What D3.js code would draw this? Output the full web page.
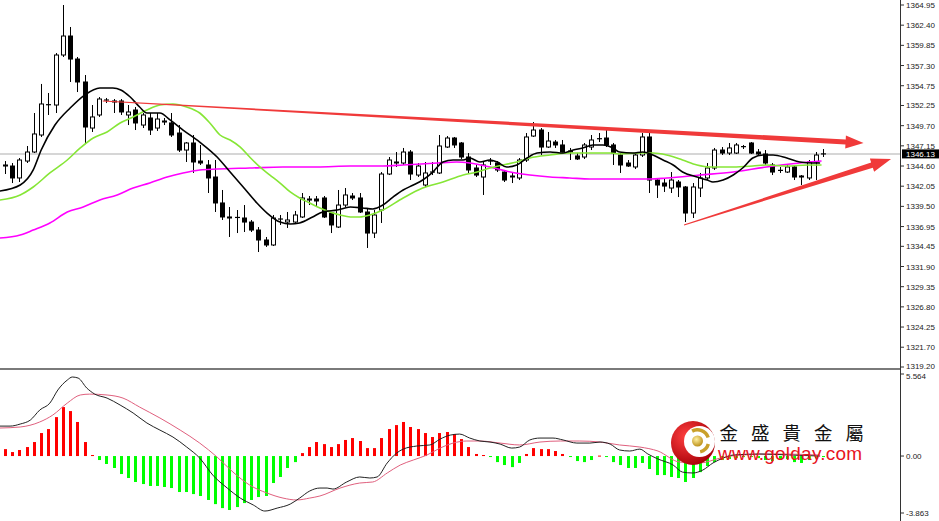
<!DOCTYPE html>
<html><head><meta charset="utf-8">
<script src="https://cdn.jsdelivr.net/npm/d3@7"></script>
<style>body{margin:0;background:#fff}svg{display:block}</style>
</head><body><svg id="c" width="939" height="521"></svg>
<script>
const openP = [1344.60,1344.60,1343.09,1345.23,1346.37,1348.52,1352.31,1352.31,1358.63,1361.03,
1358.12,1355.22,1349.40,1351.05,1352.82,1352.82,1352.82,1351.05,1351.68,1349.78,
1350.67,1349.40,1350.16,1350.04,1348.77,1346.62,1347.51,1345.23,1344.73,1343.21,
1339.93,1338.16,1338.03,1338.03,1337.52,1336.51,1335.25,1334.62,1337.78,1337.52,
1337.52,1338.16,1340.30,1340.43,1340.56,1338.66,1336.89,1339.67,1340.81,1340.56,
1338.79,1336.13,1339.04,1343.59,1345.11,1344.98,1346.37,1343.46,1342.20,1343.72,
1343.72,1347.00,1348.14,1347.51,1345.74,1344.35,1343.21,1345.11,1344.98,1343.84,
1343.21,1343.09,1345.36,1348.39,1349.15,1347.00,1347.63,1347.26,1346.37,1345.87,
1345.74,1347.00,1348.01,1348.14,1347.26,1345.99,1344.98,1344.48,1345.99,1348.27,
1342.83,1342.45,1341.82,1342.58,1341.95,1338.66,1341.82,1343.09,1344.35,1346.62,
1346.24,1346.24,1347.00,1347.51,1346.37,1346.12,1344.73,1344.10,1343.84,1344.48,
1343.34,1343.09,1345.11,1346.24];
const highP = [1345.23,1344.98,1345.61,1347.13,1351.30,1354.97,1353.83,1358.88,1364.95,1362.17,
1358.38,1356.10,1352.31,1353.32,1353.20,1353.07,1353.07,1352.31,1352.06,1351.30,
1351.30,1351.30,1350.67,1351.30,1349.78,1347.63,1348.52,1347.26,1345.36,1345.36,
1341.57,1339.42,1339.04,1339.67,1337.78,1336.89,1335.63,1338.41,1338.41,1338.79,
1338.92,1341.19,1340.81,1340.81,1340.81,1338.79,1341.57,1341.82,1341.19,1341.19,
1339.30,1339.04,1343.84,1345.74,1346.37,1346.88,1346.62,1344.98,1345.11,1345.11,
1348.52,1348.39,1348.27,1347.63,1346.24,1344.73,1345.11,1345.61,1345.23,1344.10,
1343.84,1345.61,1348.77,1350.16,1349.40,1348.90,1347.89,1347.89,1346.88,1346.24,
1347.51,1348.52,1348.77,1349.15,1347.51,1346.24,1345.36,1346.24,1348.77,1348.77,
1342.96,1342.96,1343.84,1342.83,1342.07,1342.45,1343.72,1344.98,1346.88,1347.00,
1347.51,1347.51,1347.26,1347.63,1346.75,1346.62,1344.98,1344.48,1344.73,1344.73,
1343.46,1345.36,1346.37,1346.75];
const lowP = [1343.59,1342.45,1342.58,1344.98,1346.24,1348.27,1351.05,1351.30,1358.38,1355.22,
1353.95,1347.51,1348.90,1350.80,1352.56,1351.30,1351.05,1349.78,1349.15,1349.40,
1348.52,1349.03,1349.78,1348.27,1346.37,1345.11,1343.72,1344.73,1341.19,1338.79,
1337.78,1335.63,1336.13,1336.26,1336.26,1333.73,1334.37,1334.49,1337.15,1336.77,
1337.40,1338.03,1339.67,1339.42,1338.03,1336.13,1336.77,1339.42,1340.30,1338.66,
1334.24,1335.50,1337.40,1343.46,1344.48,1344.73,1342.83,1343.21,1341.95,1343.46,
1343.59,1346.88,1346.88,1345.49,1343.72,1343.21,1340.94,1344.73,1343.84,1342.58,
1342.45,1342.83,1345.11,1348.27,1345.99,1346.88,1346.88,1346.24,1345.36,1345.36,
1345.49,1346.62,1347.63,1347.00,1344.73,1343.72,1344.48,1344.22,1345.74,1341.19,
1340.56,1341.32,1341.19,1340.68,1337.52,1338.03,1340.68,1342.83,1344.10,1345.99,
1345.99,1346.12,1346.75,1346.12,1345.99,1344.73,1343.46,1343.72,1343.72,1342.83,
1342.20,1342.83,1342.83,1345.74];
const closeP = [1344.73,1343.09,1345.36,1346.37,1348.65,1352.44,1352.35,1358.63,1361.03,1358.12,
1355.22,1349.53,1350.80,1353.07,1352.94,1352.69,1351.43,1351.43,1350.04,1351.05,
1349.15,1350.54,1350.29,1348.52,1346.62,1347.51,1345.11,1344.98,1343.09,1339.93,
1338.16,1338.03,1338.10,1337.52,1336.51,1335.25,1334.62,1338.03,1337.90,1337.78,
1338.41,1340.56,1340.43,1340.18,1338.16,1337.15,1339.67,1340.94,1340.56,1338.79,
1336.13,1338.41,1343.59,1345.36,1344.98,1346.37,1343.59,1344.60,1343.72,1343.84,
1347.13,1348.14,1347.26,1345.74,1344.10,1343.46,1344.73,1345.23,1344.10,1342.83,
1343.34,1345.36,1348.27,1349.15,1347.00,1347.76,1347.26,1346.37,1346.50,1345.49,
1347.26,1347.89,1348.05,1347.26,1346.24,1344.73,1344.60,1345.99,1348.27,1342.83,
1342.20,1342.07,1342.83,1341.95,1338.66,1341.95,1343.09,1344.35,1346.62,1346.24,
1346.88,1347.26,1347.05,1346.24,1346.12,1344.98,1343.84,1344.05,1344.48,1343.21,
1343.21,1345.11,1345.99,1346.13];

// moving averages: [bar index, price]
const maFast = [[-0.7,1341.44],[2.1,1342.20],[3.9,1344.10],[5.0,1346.62],[6.9,1349.78],[9.0,1351.93],[11.0,1353.57],[13.1,1354.46],[14.9,1354.46],[16.0,1354.21],[17.3,1353.32],[18.6,1352.06],[19.6,1351.30],[21.4,1351.30],[22.8,1350.42],[24.6,1349.15],[26.9,1347.63],[29.3,1345.74],[31.1,1343.84],[32.9,1341.95],[34.8,1339.93],[36.2,1338.66],[38.0,1337.52],[39.4,1337.27],[40.7,1337.40],[42.5,1338.16],[43.9,1338.79],[45.9,1339.04],[47.7,1339.42],[49.4,1339.30],[50.8,1339.17],[52.2,1339.67],[53.6,1340.68],[55.0,1341.57],[56.4,1342.20],[57.7,1342.83],[59.1,1343.84],[60.5,1345.11],[61.9,1345.36],[63.3,1345.36],[64.2,1345.61],[65.6,1345.11],[67.0,1345.36],[68.0,1345.11],[69.3,1344.48],[70.7,1344.73],[72.1,1345.61],[73.5,1346.24],[75.3,1346.37],[77.1,1346.24],[78.5,1346.62],[79.8,1346.88],[81.2,1347.26],[82.6,1347.26],[84.0,1346.88],[84.9,1346.37],[86.7,1346.24],[88.1,1346.37],[89.5,1345.99],[90.9,1345.36],[92.3,1344.73],[93.6,1343.84],[95.6,1343.21],[97.0,1342.83],[97.8,1342.58],[99.2,1342.83],[100.6,1343.46],[101.9,1344.35],[103.3,1345.61],[104.7,1345.99],[106.1,1345.99],[108.0,1345.61],[109.8,1345.11],[111.6,1344.98],[112.6,1344.98]];
const maMid = [[-0.7,1340.30],[2.1,1340.94],[3.9,1341.95],[6.2,1343.72],[8.6,1345.36],[10.4,1346.88],[12.2,1348.14],[14.1,1348.90],[15.9,1350.04],[17.7,1350.80],[19.6,1351.68],[21.4,1352.31],[23.2,1352.44],[25.1,1352.06],[26.9,1351.30],[28.3,1350.04],[29.7,1348.52],[31.1,1347.89],[32.5,1347.00],[33.8,1345.74],[35.2,1344.48],[36.6,1343.46],[38.0,1342.45],[39.4,1341.32],[40.7,1340.56],[42.1,1339.93],[43.5,1339.30],[44.9,1338.79],[46.3,1338.41],[47.7,1338.16],[49.0,1338.16],[50.4,1338.41],[52.2,1339.04],[55.0,1340.56],[57.7,1341.82],[60.5,1342.58],[63.3,1343.46],[65.2,1343.84],[67.0,1344.35],[68.8,1344.73],[70.7,1345.11],[72.5,1345.61],[75.3,1345.99],[78.0,1346.24],[80.8,1346.24],[83.6,1346.24],[84.9,1346.12],[87.7,1346.24],[89.5,1346.24],[91.4,1345.99],[93.6,1345.36],[95.6,1344.73],[97.4,1344.48],[100.6,1344.48],[103.3,1344.60],[105.2,1344.73],[108.0,1344.60],[110.8,1344.73],[112.8,1344.73]];
const maSlow = [[-0.7,1335.50],[2.1,1335.88],[3.9,1336.51],[6.2,1337.40],[8.6,1338.79],[10.8,1339.42],[13.1,1340.30],[15.5,1340.94],[17.7,1341.82],[20.0,1342.45],[22.4,1343.21],[24.6,1343.72],[26.9,1344.10],[29.3,1344.22],[33.8,1344.35],[38.4,1344.48],[43.1,1344.48],[47.7,1344.60],[52.2,1344.60],[55.0,1344.73],[59.7,1344.98],[62.4,1345.11],[64.2,1344.98],[67.0,1344.48],[69.8,1343.84],[72.5,1343.46],[75.3,1343.21],[78.0,1343.09],[80.8,1342.96],[84.9,1342.96],[89.1,1342.96],[91.4,1343.09],[96.0,1343.46],[100.6,1343.84],[105.2,1344.48],[109.8,1344.98],[112.8,1345.23]];

const macdHist = [0.47,0.27,0.41,0.61,0.95,1.56,1.83,2.64,3.32,3.05,
2.31,0.95,0.07,-0.27,-0.54,-0.81,-1.22,-1.49,-1.76,-1.90,
-2.03,-2.03,-2.10,-2.17,-2.44,-2.44,-2.58,-2.71,-2.98,-3.26,
-3.53,-3.66,-3.46,-3.19,-2.98,-2.78,-2.71,-1.83,-1.42,-0.81,
-0.41,0.20,0.61,0.95,0.81,0.61,0.81,1.09,1.22,1.02,
0.54,0.54,1.22,1.83,2.10,2.31,1.97,1.83,1.56,1.29,
1.56,1.63,1.49,1.15,0.61,0.14,0.07,-0.03,-0.41,-0.61,
-0.75,-0.47,0.14,0.54,0.47,0.47,0.34,0.14,-0.03,-0.34,
-0.41,-0.27,0.03,-0.03,-0.41,-0.61,-0.81,-0.81,-0.47,-0.88,
-1.29,-1.29,-1.42,-1.49,-1.76,-1.49,-1.09,-0.68,-0.41,-0.27,
-0.20,-0.14,-0.07,-0.03,-0.14,-0.27,-0.34,-0.27,-0.20,-0.41,
-0.47,-0.27,-0.14,-0.07];
const macdLine = [[-0.7,2.03],[0.7,2.03],[2.1,2.17],[3.5,2.44],[4.8,3.12],[6.2,3.59],[7.3,4.48],[8.6,5.15],[9.3,5.36],[10.1,5.29],[11.3,4.61],[12.4,4.20],[14.1,3.93],[15.9,3.46],[17.7,2.92],[19.6,2.24],[21.4,1.76],[23.2,1.29],[25.1,0.61],[26.9,-0.14],[28.7,-1.29],[30.7,-2.17],[32.5,-2.85],[34.3,-3.32],[35.9,-3.73],[37.6,-3.53],[39.4,-3.26],[40.7,-2.85],[42.1,-2.37],[43.5,-2.17],[44.5,-2.17],[45.3,-2.24],[47.2,-1.76],[49.0,-1.42],[50.4,-1.49],[51.4,-1.42],[52.8,-0.47],[54.1,0.20],[55.0,0.47],[56.9,0.68],[58.7,0.75],[60.1,1.15],[61.5,1.42],[62.8,1.49],[64.2,1.22],[65.6,1.02],[67.0,0.95],[68.4,0.81],[70.0,0.54],[71.1,0.61],[72.5,1.09],[73.9,1.22],[75.7,1.22],[77.1,1.09],[79.0,0.88],[80.8,0.88],[82.2,0.95],[83.6,0.81],[84.9,0.41],[86.3,0.34],[87.7,0.47],[88.8,0.14],[90.2,-0.20],[92.3,-0.61],[93.6,-1.09],[95.0,-1.15],[96.4,-0.95],[97.8,-0.47],[99.2,-0.14],[100.6,0.07],[104.3,0.14],[108.4,0.07],[112.6,0.00]];
const signalLine = [[-0.7,1.90],[2.1,1.97],[4.8,2.31],[6.6,2.78],[8.6,3.59],[10.4,4.14],[11.7,4.20],[14.1,4.14],[16.3,3.93],[18.6,3.32],[21.4,2.58],[24.2,1.76],[26.9,0.88],[29.3,-0.07],[31.5,-1.09],[33.8,-1.97],[36.2,-2.51],[38.4,-2.85],[40.3,-2.98],[42.1,-2.85],[43.5,-2.71],[46.3,-2.17],[49.0,-1.83],[50.8,-1.76],[52.8,-1.15],[54.6,-0.61],[56.4,-0.27],[58.3,0.07],[60.1,0.54],[61.9,0.88],[63.8,1.02],[65.6,1.02],[68.4,0.88],[71.1,0.75],[73.9,0.95],[76.7,1.02],[79.4,1.02],[82.2,0.95],[84.9,0.75],[87.7,0.61],[90.2,0.34],[93.2,-0.41],[96.0,-0.47],[98.8,-0.14],[101.5,0.07],[107.0,0.14],[112.6,0.07]];

const priceTickLabels = ["1364.95","1362.40","1359.85","1357.30","1354.75","1352.25","1349.70","1347.15","1344.60","1342.05","1339.50","1336.95","1334.45","1331.90","1329.35","1326.80","1324.25","1321.70","1319.20"];
const macdTickLabels = ["5.564","0.00","-3.863"];
const lastPrice = 1346.13;
const lastPriceLabel = "1346.13";
const trendUpper = [[13.5,1352.82],[118.6,1347.51]];
const trendLower = [[93.8,1337.15],[122.4,1345.49]];
const logoName = "金盛貴金屬";
const logoUrl = "www.golday.com";

const W = 939, H = 521, AX = 900;
const svg = d3.select('#c');
const x = d3.scaleLinear().domain([0, 113]).range([5, 823]);
const y = d3.scaleLinear().domain([1319.20, 1364.95]).range([367, 5]);
const ym = d3.scaleLinear().domain([-3.863, 5.564]).range([513, 374]);

svg.append('rect').attr('width', W).attr('height', H).attr('fill', '#fff');

// last price horizontal line
svg.append('line').attr('x1', 0).attr('x2', AX).attr('y1', y(lastPrice)).attr('y2', y(lastPrice))
  .attr('stroke', '#c8c8c8').attr('stroke-width', 1.5);

// candles
const candles = openP.map((o, i) => ({ i, o, h: highP[i], l: lowP[i], c: closeP[i] }));
const cx = d => Math.round(x(d.i)) + 0.5;
const cg = svg.append('g');
cg.selectAll('line.wick').data(candles).join('line').attr('class', 'wick')
  .attr('x1', cx).attr('x2', cx).attr('y1', d => y(d.h)).attr('y2', d => y(d.l))
  .attr('stroke', '#000').attr('stroke-width', 1);
const bodies = candles.filter(d => Math.abs(y(d.o) - y(d.c)) >= 1);
const dojis = candles.filter(d => Math.abs(y(d.o) - y(d.c)) < 1);
cg.selectAll('rect.body').data(bodies).join('rect').attr('class', 'body')
  .attr('x', d => cx(d) - 2).attr('width', 4)
  .attr('y', d => Math.min(y(d.o), y(d.c))).attr('height', d => Math.abs(y(d.o) - y(d.c)))
  .attr('fill', d => d.c >= d.o ? '#fff' : '#000').attr('stroke', '#000').attr('stroke-width', 1);
cg.selectAll('line.doji').data(dojis).join('line').attr('class', 'doji')
  .attr('x1', d => cx(d) - 2.5).attr('x2', d => cx(d) + 2.5)
  .attr('y1', d => y(d.c)).attr('y2', d => y(d.c)).attr('stroke', '#000').attr('stroke-width', 1.2);

// moving averages
const maLine = d3.line().x(d => x(d[0])).y(d => y(d[1])).curve(d3.curveMonotoneX);
svg.append('path').attr('d', maLine(maSlow)).attr('fill', 'none').attr('stroke', '#ff00ff').attr('stroke-width', 1.6);
svg.append('path').attr('d', maLine(maMid)).attr('fill', 'none').attr('stroke', '#86e636').attr('stroke-width', 1.6);
svg.append('path').attr('d', maLine(maFast)).attr('fill', 'none').attr('stroke', '#000').attr('stroke-width', 1.6);

// trend arrows
function arrowPts(a, b, w0, w1, hl, hh) {
  const p0 = [x(a[0]), y(a[1])], p1 = [x(b[0]), y(b[1])];
  const dx = p1[0] - p0[0], dy = p1[1] - p0[1], L = Math.hypot(dx, dy);
  const ux = dx / L, uy = dy / L, nx = -uy, ny = ux;
  const bx = p1[0] - ux * hl, by = p1[1] - uy * hl;
  return [[p0[0] + nx * w0 / 2, p0[1] + ny * w0 / 2], [bx + nx * w1 / 2, by + ny * w1 / 2], [bx + nx * hh, by + ny * hh], p1,
    [bx - nx * hh, by - ny * hh], [bx - nx * w1 / 2, by - ny * w1 / 2], [p0[0] - nx * w0 / 2, p0[1] - ny * w0 / 2]];
}
svg.append('polygon').attr('points', arrowPts(trendUpper[0], trendUpper[1], 1, 5, 18, 6.5).map(p => p.join(',')).join(' ')).attr('fill', '#f03a3a');
svg.append('polygon').attr('points', arrowPts(trendLower[0], trendLower[1], 1, 5.5, 20, 7).map(p => p.join(',')).join(' ')).attr('fill', '#f03a3a');

// MACD histogram
svg.append('g').selectAll('rect').data(macdHist).join('rect')
  .attr('x', (v, i) => Math.round(x(i)) - 1).attr('width', 3)
  .attr('y', v => Math.min(ym(0), ym(v))).attr('height', v => Math.max(1, Math.abs(ym(v) - ym(0))))
  .attr('fill', v => v >= 0 ? '#ff0000' : '#00ff00');
const mLine = d3.line().x(d => x(d[0])).y(d => ym(d[1])).curve(d3.curveMonotoneX);
svg.append('path').attr('d', mLine(signalLine)).attr('fill', 'none').attr('stroke', '#e0607e').attr('stroke-width', 1);
svg.append('path').attr('d', mLine(macdLine)).attr('fill', 'none').attr('stroke', '#222').attr('stroke-width', 1);

// panel separator & axis
svg.append('line').attr('x1', 0).attr('x2', AX).attr('y1', 369).attr('y2', 369).attr('stroke', '#7a7a7a').attr('stroke-width', 2);
svg.append('line').attr('x1', AX + 0.5).attr('x2', AX + 0.5).attr('y1', 0).attr('y2', H).attr('stroke', '#333').attr('stroke-width', 1);

const lab = svg.append('g').attr('font-family', 'Liberation Sans, Arial, sans-serif').attr('font-size', 8).attr('fill', '#222');
priceTickLabels.forEach((t, k) => {
  const yy = y(+t);
  lab.append('line').attr('x1', AX).attr('x2', AX + 4).attr('y1', yy).attr('y2', yy).attr('stroke', '#333');
  lab.append('text').attr('x', AX + 6).attr('y', yy + (k === priceTickLabels.length - 1 ? 1.5 : 3)).text(t);
});
macdTickLabels.forEach((t, k) => {
  const yy = ym(+t);
  lab.append('line').attr('x1', AX).attr('x2', AX + 4).attr('y1', yy).attr('y2', yy).attr('stroke', '#333');
  lab.append('text').attr('x', AX + 6).attr('y', yy + (k === 0 ? 5 : 3)).text(t);
});
const ly = y(lastPrice);
svg.append('rect').attr('x', AX + 2).attr('y', ly - 4.5).attr('width', 37).attr('height', 9).attr('fill', '#000');
svg.append('text').attr('x', AX + 6).attr('y', ly + 3).attr('font-family', 'Liberation Sans, Arial, sans-serif')
  .attr('font-size', 8).attr('fill', '#fff').text(lastPriceLabel);

// logo
const defs = svg.append('defs');
const rg = defs.append('radialGradient').attr('id', 'rg').attr('cx', '35%').attr('cy', '35%').attr('r', '70%');
rg.append('stop').attr('offset', '0%').attr('stop-color', '#ff4040');
rg.append('stop').attr('offset', '100%').attr('stop-color', '#a80008');
const gg = defs.append('radialGradient').attr('id', 'gg').attr('cx', '40%').attr('cy', '35%').attr('r', '70%');
gg.append('stop').attr('offset', '0%').attr('stop-color', '#fff0a0');
gg.append('stop').attr('offset', '100%').attr('stop-color', '#b88a10');
const lg = svg.append('g').attr('transform', 'translate(693,443)');
lg.append('circle').attr('r', 22).attr('fill', 'url(#rg)');
lg.append('circle').attr('cx', 6.5).attr('cy', -1.5).attr('r', 15.5).attr('fill', '#fff');
lg.append('circle').attr('cx', 4.5).attr('cy', -2).attr('r', 5.5).attr('fill', 'url(#gg)');
const arc = d3.arc();
lg.append('path').attr('transform', 'translate(4.5,-2)')
  .attr('d', arc({ innerRadius: 9.5, outerRadius: 13, startAngle: -0.5, endAngle: 1.25 })).attr('fill', '#c9a02a');
lg.append('path').attr('transform', 'translate(4.5,-2)')
  .attr('d', arc({ innerRadius: 9.5, outerRadius: 13, startAngle: 1.85, endAngle: 2.9 })).attr('fill', '#c9a02a');
svg.append('text').attr('x', 719.5).attr('y', 439.5).attr('font-family', 'Noto Sans CJK TC, Noto Sans CJK SC, sans-serif')
  .attr('font-size', 18.5).attr('letter-spacing', 13).attr('fill', '#111').text(logoName);
svg.append('text').attr('x', 718).attr('y', 459.5).attr('font-family', 'Liberation Sans, Arial, sans-serif')
  .attr('font-size', 19).attr('textLength', 144).attr('fill', '#e8141e').text(logoUrl);
</script></body></html>
